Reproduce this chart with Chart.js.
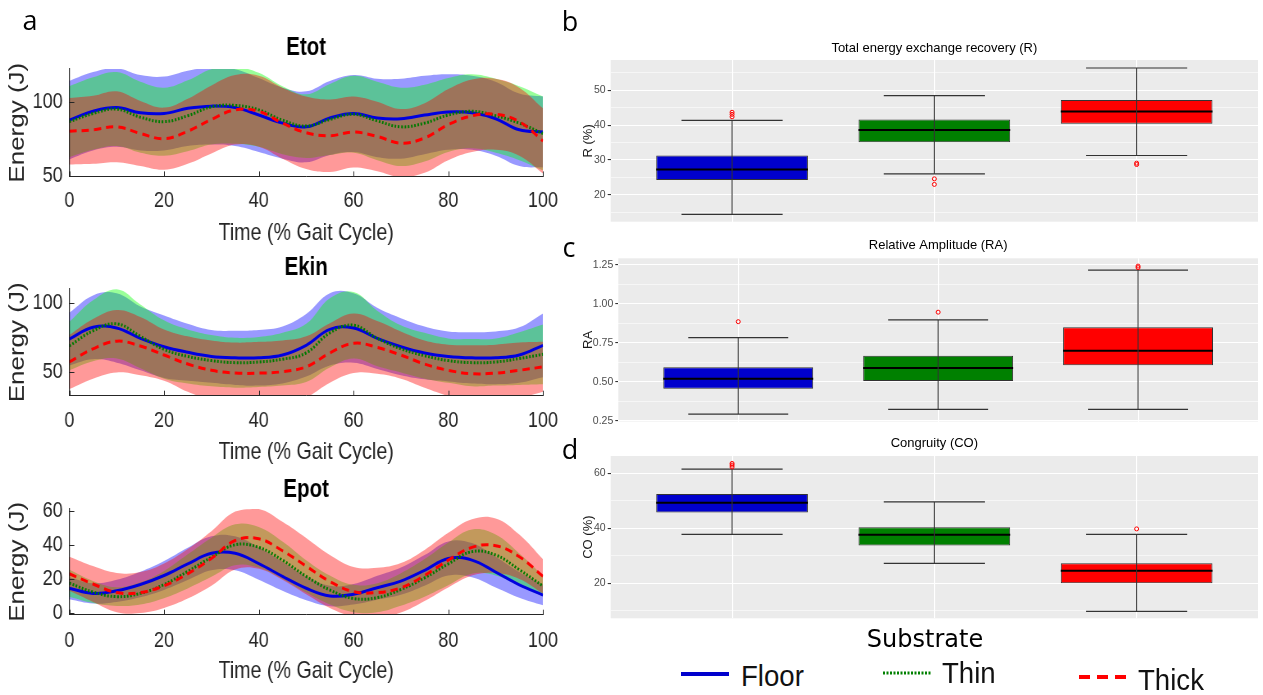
<!DOCTYPE html>
<html>
<head>
<meta charset="utf-8">
<title>Energy exchange by substrate</title>
<script src="https://cdn.jsdelivr.net/npm/chart.js@4.4.1/dist/chart.umd.min.js"></script>
<style>
  html, body { margin: 0; padding: 0; background: #fff; }
  body { position: relative; width: 1263px; height: 695px; overflow: hidden; }
  canvas { position: absolute; }
  .tag { position: absolute; transform: translate(-50%, -50%); font: 27px 'Open Sans', 'DejaVu Sans', sans-serif; color: #000; line-height: 1; }
  .legend-title { position: absolute; transform: translate(-50%, -50%); font: 24px 'DejaVu Sans', sans-serif; color: #000; line-height: 1; white-space: nowrap; }
  .key { position: absolute; transform: translateY(-50%) scaleX(0.92); transform-origin: 0 50%; font: 30px 'Liberation Sans', Arial, sans-serif; color: #111; line-height: 1; }
  .swatch { position: absolute; }
</style>
</head>
<body>
<canvas id="etot"></canvas>
<canvas id="ekin"></canvas>
<canvas id="epot"></canvas>
<canvas id="recovery"></canvas>
<canvas id="amplitude"></canvas>
<canvas id="congruity"></canvas>

<div class="tag" style="left:30px;top:19px">a</div>
<div class="tag" style="left:570px;top:20px">b</div>
<div class="tag" style="left:569px;top:246px">c</div>
<div class="tag" style="left:570px;top:448px">d</div>

<div class="legend-title" style="left:925px;top:639px">Substrate</div>
<svg class="swatch" style="left:681px;top:669px" width="48" height="10"><line x1="0" y1="5" x2="48" y2="5" stroke="#0000cd" stroke-width="4"/></svg>
<div class="key" style="left:741px;top:676px">Floor</div>
<svg class="swatch" style="left:883px;top:668px" width="48" height="10"><line x1="0" y1="5" x2="48" y2="5" stroke="#008000" stroke-width="3" stroke-dasharray="2 1.5"/></svg>
<div class="key" style="left:942px;top:673px">Thin</div>
<svg class="swatch" style="left:1079px;top:672px" width="48" height="10"><line x1="0" y1="5" x2="48" y2="5" stroke="#ff0000" stroke-width="4" stroke-dasharray="11 7"/></svg>
<div class="key" style="left:1138px;top:680px">Thick</div>

<script>
// ---- data: energy curves over the gait cycle (mean and SD) ----
const gaitPct = [0, 5, 10, 15, 20, 25, 30, 35, 40, 45, 50, 55, 60, 65, 70, 75, 80, 85, 90, 95, 100];
const timeTicks = [0, 20, 40, 60, 80, 100];

const etotFloorMean = [88, 94, 96.5, 93, 92.5, 96, 97.5, 96.5, 91.5, 86, 83.5, 89.5, 92.5, 89.5, 89, 91.5, 93.5, 93, 89, 81.5, 80];
const etotFloorSd = [26.5, 26.5, 26.5, 25.5, 25, 25.5, 26, 26, 25, 24, 24, 25, 26, 26.5, 27, 26.5, 25.5, 25, 25, 24.5, 24];
const etotThinMean = [87, 92.5, 95.5, 90, 87, 91, 97, 98, 95, 88, 84, 88.5, 92, 87.5, 83.5, 86, 91.5, 94, 91, 86, 79];
const etotThinSd = [24, 24.5, 25, 24, 23, 24, 25.5, 26, 25, 23, 21.5, 24, 26, 26.5, 26.5, 26, 25, 25, 25, 25, 25];
const etotThickMean = [80.5, 81.5, 83.5, 79, 75.5, 80.5, 88.5, 95, 94, 86, 79.5, 77.5, 80, 77, 72.5, 76, 85, 91, 92, 87, 74];
const etotThickSd = [22.5, 23, 24, 22, 21, 22, 23, 23.5, 24, 24, 24.5, 24.5, 24, 23.5, 23, 23.5, 24, 24.5, 24, 23, 22];
const etotTicks = [50, 100];

const ekinFloorMean = [74, 82.5, 82, 74.5, 68.5, 64.5, 61.5, 60.5, 60.5, 62.5, 69.5, 81, 82, 74.5, 68.5, 64, 61.5, 60.5, 60.5, 62.5, 69.5];
const ekinFloorSd = [19, 23, 25, 23, 22.5, 20.5, 19, 19.5, 20, 20.5, 22.5, 26, 25, 22, 20.5, 19, 18, 18.5, 19, 20, 23];
const ekinThinMean = [69, 80, 85, 76, 66.5, 61.5, 58.5, 57, 57.5, 59.5, 64, 78.5, 84, 74.5, 67, 62, 58.5, 57, 57.5, 60, 63];
const ekinThinSd = [17.5, 22, 25, 23, 21, 19.5, 18.5, 18, 18, 19, 21, 25, 24, 20, 17, 16.5, 16, 17, 17, 19, 21.5];
const ekinThickMean = [57.5, 67, 72.5, 69, 62.5, 56, 51.5, 49.5, 49.5, 50.5, 54, 64, 71, 68, 62.5, 56, 51.5, 49, 49.5, 51.5, 54];
const ekinThickSd = [19.5, 21.5, 22.5, 21, 18.5, 20, 21.5, 22, 22.5, 22.5, 22, 21.5, 21.5, 19, 17, 17, 18.5, 20.5, 20.5, 20, 18];
const ekinTicks = [50, 100];

const epotFloorMean = [14.5, 11.5, 13, 16.7, 22, 28.8, 35, 35, 29, 21.5, 14.5, 10, 11, 14.8, 18.7, 25, 32, 31, 24, 16.5, 10.5];
const epotFloorSd = [6.5, 6, 6.5, 7.5, 8.5, 9.5, 10, 10, 9.5, 8.5, 7, 6, 6, 7, 8, 9, 10, 10, 9, 7.5, 6];
const epotThinMean = [17.5, 12.3, 9.6, 11.5, 16.7, 24.4, 32.7, 40, 38.5, 31, 21.5, 13.5, 8.5, 9, 13.8, 20.6, 28.8, 36, 34, 25.4, 15.8];
const epotThinSd = [8, 6.5, 5.5, 6.5, 8, 10, 11.5, 12, 12, 11, 9.5, 8.5, 8, 8.5, 9.5, 11, 12.5, 13, 12, 9.5, 6];
const epotThickMean = [23, 17, 12, 12, 16, 23, 32, 42.5, 43.5, 36.5, 27.5, 18.5, 12.5, 12, 14.8, 22, 31, 38.5, 39.5, 33, 21.5];
const epotThickSd = [10, 10.5, 11.5, 12, 13, 14.5, 16, 17, 17.5, 17, 16.5, 15.5, 14.5, 14.5, 14.5, 15, 16, 16.5, 16, 13, 10];
const epotTicks = [0, 20, 40, 60];

// ---- data: box plot summaries per substrate ----
const substrates = ['Floor', 'Thin', 'Thick'];

const rLow = [14.4, 26.0, 31.3];
const rQ1 = [24.3, 35.1, 40.4];
const rMedian = [27.3, 38.6, 43.9];
const rQ3 = [31.3, 41.6, 47.2];
const rHigh = [41.4, 48.5, 56.4];
const rOutliers = [[42.4, 43.1, 43.7], [23.0, 24.6], [28.7, 29.1]];
const rTicks = [15, 20, 25, 30, 35, 40, 45, 50, 55];

const raLow = [0.293, 0.323, 0.323];
const raQ1 = [0.456, 0.505, 0.606];
const raMedian = [0.52, 0.589, 0.70];
const raQ3 = [0.593, 0.668, 0.85];
const raHigh = [0.783, 0.897, 1.217];
const raOutliers = [[0.886], [0.947], [1.233, 1.243]];
const raTicks = [0.25, 0.375, 0.5, 0.625, 0.75, 0.875, 1, 1.125, 1.25];

const coLow = [37.8, 27.3, 9.8];
const coQ1 = [45.8, 33.8, 20];
const coMedian = [49.3, 37.7, 24.6];
const coQ3 = [52.5, 40.4, 27.3];
const coHigh = [61.5, 49.6, 37.8];
const coOutliers = [[62.3, 63.0, 63.6], [], [39.8]];
const coTicks = [10, 20, 30, 40, 50, 60];

// ---- styling ----
const sans = "'Liberation Sans', Arial, sans-serif";
const axisInk = '#262626';
const bandColors = ['rgba(0,0,255,0.4)', 'rgba(0,255,0,0.4)', 'rgba(255,0,0,0.4)'];
const boxColors = ['#0000cd', '#008000', '#ff0000'];
const boxHalf = 0.375;
const capHalf = 0.25;
// the matlab panels are squeezed sideways in the original figure
const squeeze = 0.82;

// small inward tick marks, matlab style
const innerTicks = {
  id: 'innerTicks',
  afterDatasetsDraw(chart, args, opts) {
    if (!opts.lenX) return;
    const {ctx, chartArea: a, scales} = chart;
    ctx.save();
    ctx.strokeStyle = axisInk;
    ctx.lineWidth = 1;
    ctx.beginPath();
    scales.x.ticks.forEach(t => {
      const p = Math.round(scales.x.getPixelForValue(t.value)) + 0.5;
      ctx.moveTo(p, a.bottom);
      ctx.lineTo(p, a.bottom - opts.lenX);
    });
    scales.y.ticks.forEach(t => {
      const p = Math.round(scales.y.getPixelForValue(t.value)) + 0.5;
      ctx.moveTo(a.left, p);
      ctx.lineTo(a.left + opts.lenY, p);
    });
    ctx.stroke();
    ctx.restore();
  }
};

// grey ggplot panel
const panelBg = {
  id: 'panelBg',
  beforeDraw(chart, args, opts) {
    if (!opts.color) return;
    const {ctx, chartArea: a} = chart;
    ctx.save();
    ctx.fillStyle = opts.color;
    ctx.fillRect(a.left, a.top, a.right - a.left, a.bottom - a.top);
    ctx.restore();
  }
};

function band(mean, sd, color, order) {
  const edge = sign => gaitPct.map((x, i) => ({x: x, y: mean[i] + sign * sd[i]}));
  return [
    {data: edge(1), borderColor: 'transparent', borderWidth: 0, pointRadius: 0, fill: false, tension: 0.4, order: order},
    {data: edge(-1), borderColor: 'transparent', borderWidth: 0, pointRadius: 0, fill: '-1', backgroundColor: color, tension: 0.4, order: order}
  ];
}

function meanLine(mean, color, dash, order) {
  return {
    data: gaitPct.map((x, i) => ({x: x, y: mean[i]})),
    borderColor: color, borderWidth: 3, borderDash: dash, pointRadius: 0, fill: false, tension: 0.4, order: order
  };
}

function energyChart(id, title, frame, yMin, yMax, yTicks, floor, thin, thick) {
  const cv = document.getElementById(id);
  const canvasTop = frame.top - 44;
  const W = 720, H = 228;
  cv.width = W;
  cv.height = H;
  cv.style.left = '0px';
  cv.style.top = canvasTop + 'px';
  cv.style.transformOrigin = '0 0';
  cv.style.transform = 'scaleX(' + squeeze + ')';

  // horizontal positions are in page px, the canvas is drawn wider then squeezed
  const left = 69.3 / squeeze, right = 543 / squeeze, yTitleX = 18 / squeeze;
  const yTitleSize = 26;
  const padLeft = yTitleX - yTitleSize * 1.2 / 2;

  const titleLH = 25 * 1.2;
  const titlePadTop = (44 - frame.titleGap) - titleLH / 2;
  const titlePadBottom = 44 - titlePadTop - titleLH;
  const xAxisH = frame.labelGap + 24 * 1.2 / 2;
  const padBottom = H - (frame.bottom - canvasTop) - xAxisH;

  const datasets = [].concat(
    band(floor[0], floor[1], bandColors[0], 6),
    band(thin[0], thin[1], bandColors[1], 5),
    band(thick[0], thick[1], bandColors[2], 4),
    [meanLine(floor[0], '#0000e0', [], 2),
     meanLine(thin[0], '#007a00', [2, 2], 1),
     meanLine(thick[0], '#ff0000', [9, 6], 0)]
  );

  return new Chart(cv, {
    type: 'line',
    data: {datasets: datasets},
    plugins: [innerTicks],
    options: {
      responsive: false,
      animation: false,
      events: [],
      layout: {padding: {left: padLeft, right: W - right, top: 0, bottom: padBottom}},
      plugins: {
        legend: {display: false},
        tooltip: {enabled: false},
        innerTicks: {lenX: 5, lenY: 5 / squeeze},
        title: {
          display: true, text: title, fullSize: false, color: '#000',
          font: {family: sans, size: 25, weight: 'bold'},
          padding: {top: titlePadTop, bottom: titlePadBottom}
        }
      },
      scales: {
        x: {
          type: 'linear', min: 0, max: 100,
          afterBuildTicks: s => { s.ticks = timeTicks.map(v => ({value: v})); },
          afterFit: s => { s.height = xAxisH; },
          grid: {display: false, drawTicks: false},
          border: {display: true, color: axisInk, width: 1, z: 1},
          ticks: {font: {family: sans, size: 22}, color: axisInk, padding: frame.tickGap - 22 * 1.2 / 2, maxRotation: 0, autoSkip: false},
          title: {display: true, text: 'Time (% Gait Cycle)', color: axisInk, font: {family: sans, size: 24}, padding: 0}
        },
        y: {
          type: 'linear', min: yMin, max: yMax,
          afterBuildTicks: s => { s.ticks = yTicks.map(v => ({value: v})); },
          afterFit: s => { s.width = left - padLeft; },
          grid: {display: false, drawTicks: false},
          border: {display: true, color: axisInk, width: 1.2, z: 1},
          ticks: {font: {family: sans, size: 22}, color: axisInk, padding: 6.6 / squeeze},
          title: {display: true, text: 'Energy (J)', color: axisInk, font: {family: sans, size: yTitleSize}, padding: {top: 0, bottom: 0}}
        }
      }
    }
  });
}

function boxDatasets(lo, q1, med, q3, hi, outliers) {
  const sets = [{
    type: 'bar',
    data: substrates.map((s, i) => ({x: i + 1, y: [q1[i], q3[i]]})),
    backgroundColor: boxColors, borderColor: '#333333', borderWidth: 1, borderSkipped: false,
    barPercentage: 0.75, categoryPercentage: 1, order: 4
  }];
  const seg = (pts, w, c, order) => ({type: 'line', data: pts, borderColor: c, borderWidth: w, pointRadius: 0, fill: false, order: order});
  substrates.forEach((s, i) => {
    const x = i + 1;
    sets.push(seg([{x: x - boxHalf, y: med[i]}, {x: x + boxHalf, y: med[i]}], 2, '#000000', 3));
    sets.push(seg([{x: x, y: lo[i]}, {x: x, y: hi[i]}], 1, '#333333', 1));
    sets.push(seg([{x: x - capHalf, y: lo[i]}, {x: x + capHalf, y: lo[i]}], 1.2, '#333333', 1));
    sets.push(seg([{x: x - capHalf, y: hi[i]}, {x: x + capHalf, y: hi[i]}], 1.2, '#333333', 1));
  });
  sets.push({
    type: 'scatter',
    data: outliers.flatMap((arr, i) => arr.map(v => ({x: i + 1, y: v}))),
    pointRadius: 2, pointBorderWidth: 1, borderColor: '#ff0000', backgroundColor: 'rgba(0,0,0,0)', order: 0
  });
  return sets;
}

function boxChart(id, title, yTitle, frame, yMin, yMax, yTicks, isMajor, fmt, datasets) {
  const cv = document.getElementById(id);
  cv.width = 703;
  cv.height = 200;
  cv.style.left = '560px';
  cv.style.top = frame.canvasTop + 'px';

  const titleLH = 13 * 1.2;
  const titlePadTop = (frame.titleY - frame.canvasTop) - titleLH / 2;
  const titlePadBottom = (frame.top - frame.canvasTop) - titlePadTop - titleLH;
  const padBottom = 200 - (frame.bottom - frame.canvasTop);
  const major = c => c.tick && isMajor(c.tick.value);

  return new Chart(cv, {
    type: 'bar',
    data: {datasets: datasets},
    plugins: [panelBg],
    options: {
      responsive: false,
      animation: false,
      events: [],
      layout: {padding: {left: 0, right: 0, top: 0, bottom: padBottom}},
      plugins: {
        legend: {display: false},
        tooltip: {enabled: false},
        panelBg: {color: '#ebebeb'},
        title: {
          display: true, text: title, fullSize: false, color: '#000',
          font: {family: sans, size: 13, weight: 'normal'},
          padding: {top: titlePadTop, bottom: titlePadBottom}
        }
      },
      scales: {
        x: {
          type: 'linear', min: 0.4, max: 3.6, offset: false,
          afterBuildTicks: s => { s.ticks = substrates.map((n, i) => ({value: i + 1})); },
          afterFit: s => { s.height = 0; },
          grid: {color: '#ffffff', lineWidth: 1.1, drawTicks: false, offset: false},
          border: {display: false},
          ticks: {display: false}
        },
        y: {
          type: 'linear', min: yMin, max: yMax,
          afterBuildTicks: s => { s.ticks = yTicks.map(v => ({value: v})); },
          afterFit: s => { s.width = frame.left - 560; },
          grid: {
            color: '#ffffff',
            lineWidth: c => major(c) ? 1.1 : 0.55,
            tickColor: c => major(c) ? '#333333' : 'rgba(0,0,0,0)',
            tickLength: 3, drawTicks: true
          },
          border: {display: false},
          ticks: {font: {family: sans, size: 10.5}, color: '#4d4d4d', padding: 2, callback: v => isMajor(v) ? fmt(v) : ''},
          title: {
            display: true, text: yTitle, color: '#1a1a1a', font: {family: sans, size: 13},
            padding: {top: frame.yTitleX - 560 - 13 * 1.2 / 2, bottom: 0}
          }
        }
      }
    }
  });
}

energyChart('etot', 'Etot', {top: 69.3, bottom: 176.7, titleGap: 21.3, tickGap: 25, labelGap: 57.3},
  50, 122.6, etotTicks, [etotFloorMean, etotFloorSd], [etotThinMean, etotThinSd], [etotThickMean, etotThickSd]);
energyChart('ekin', 'Ekin', {top: 289.3, bottom: 396, titleGap: 21.3, tickGap: 25.7, labelGap: 57},
  33.2, 110.1, ekinTicks, [ekinFloorMean, ekinFloorSd], [ekinThinMean, ekinThinSd], [ekinThickMean, ekinThickSd]);
energyChart('epot', 'Epot', {top: 509.3, bottom: 615, titleGap: 19.3, tickGap: 26.7, labelGap: 57},
  -1, 61, epotTicks, [epotFloorMean, epotFloorSd], [epotThinMean, epotThinSd], [epotThickMean, epotThickSd]);

const every = step => v => Math.abs(v / step - Math.round(v / step)) < 1e-6;

boxChart('recovery', 'Total energy exchange recovery (R)', 'R (%)',
  {canvasTop: 30, left: 610.7, top: 60, bottom: 223.3, titleY: 48.3, yTitleX: 588},
  12.3, 58.7, rTicks, every(10), v => String(v),
  boxDatasets(rLow, rQ1, rMedian, rQ3, rHigh, rOutliers));
boxChart('amplitude', 'Relative Amplitude (RA)', 'RA',
  {canvasTop: 230, left: 618.3, top: 258.3, bottom: 421.5, titleY: 245, yTitleX: 588.3},
  0.245, 1.293, raTicks, every(0.25), v => v.toFixed(2),
  boxDatasets(raLow, raQ1, raMedian, raQ3, raHigh, raOutliers));
boxChart('congruity', 'Congruity (CO)', 'CO (%)',
  {canvasTop: 430, left: 610.7, top: 456, bottom: 618.3, titleY: 443, yTitleX: 588},
  7.3, 66.3, coTicks, every(20), v => String(v),
  boxDatasets(coLow, coQ1, coMedian, coQ3, coHigh, coOutliers));
</script>
</body>
</html>
